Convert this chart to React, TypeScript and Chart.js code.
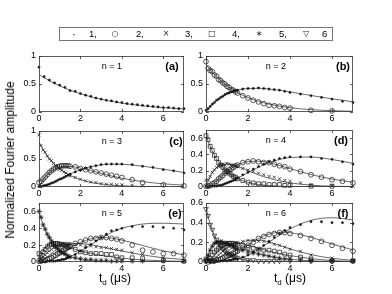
import React, { useEffect, useRef } from "react";
import { Chart, registerables } from "chart.js";
Chart.register(...registerables);

const W = 392;
const H = 294;
const FONT = '"Liberation Sans", Arial, Helvetica, sans-serif';

// ---- time grids (µs) ----
const T_LINE = [0, 0.25, 0.5, 0.75, 1, 1.25, 1.5, 2, 2.5, 3, 3.5, 4, 5, 6, 7];
const T_A = [0, 0.25, 0.5, 0.75, 1, 1.25, 1.5, 1.75, 2, 2.25, 2.5, 2.75, 3, 3.25, 3.5, 3.75, 4, 4.25, 4.5, 4.75, 5, 5.25, 5.5, 5.75, 6, 6.25, 6.5, 6.75, 7];
const T_DATA = [0, 0.1, 0.2, 0.3, 0.4, 0.5, 0.6, 0.7, 0.8, 0.9, 1, 1.1, 1.2, 1.3, 1.4, 1.5, 1.75, 2, 2.25, 2.5, 2.75, 3, 3.25, 3.5, 3.75, 4, 4.5, 5, 5.5, 6, 6.5, 7];

// ---- panel (a) n = 1 ----
const A_FIT_1 = [0.670, 0.612, 0.560, 0.511, 0.467, 0.427, 0.390, 0.326, 0.272, 0.228, 0.190, 0.159, 0.111, 0.077, 0.054];
const A_DATA_1 = [0.80, 0.63, 0.57, 0.52, 0.48, 0.44, 0.38, 0.37, 0.33, 0.30, 0.28, 0.25, 0.23, 0.21, 0.20, 0.18, 0.17, 0.15, 0.14, 0.13, 0.12, 0.11, 0.10, 0.09, 0.08, 0.08, 0.07, 0.06, 0.06];

// ---- panel (b) n = 2 ----
const B_FIT_1 = [0, 0.114, 0.204, 0.274, 0.326, 0.365, 0.393, 0.421, 0.424, 0.410, 0.387, 0.358, 0.295, 0.235, 0.183];
const B_FIT_2 = [0.850, 0.732, 0.630, 0.542, 0.466, 0.402, 0.346, 0.256, 0.190, 0.141, 0.104, 0.077, 0.042, 0.023, 0.013];
const B_DATA_1 = [0.03, 0.06, 0.10, 0.14, 0.17, 0.21, 0.23, 0.26, 0.28, 0.31, 0.33, 0.34, 0.36, 0.37, 0.38, 0.39, 0.41, 0.42, 0.42, 0.43, 0.42, 0.41, 0.40, 0.39, 0.37, 0.35, 0.32, 0.29, 0.26, 0.23, 0.19, 0.17];
const B_DATA_2 = [0.90, 0.78, 0.74, 0.72, 0.66, 0.64, 0.58, 0.56, 0.52, 0.50, 0.46, 0.44, 0.40, 0.39, 0.36, 0.34, 0.29, 0.25, 0.21, 0.18, 0.15, 0.12, 0.11, 0.10, 0.08, 0.07, null, 0.03, null, 0.02, null, null];

// ---- panel (c) n = 3 ----
const C_FIT_1 = [0, 0.013, 0.046, 0.090, 0.137, 0.186, 0.231, 0.308, 0.363, 0.395, 0.408, 0.406, 0.372, 0.318, 0.260];
const C_FIT_2 = [0, 0.155, 0.257, 0.320, 0.354, 0.368, 0.367, 0.338, 0.293, 0.244, 0.198, 0.158, 0.096, 0.057, 0.033];
const C_FIT_3 = [0.800, 0.639, 0.510, 0.407, 0.325, 0.260, 0.207, 0.132, 0.084, 0.054, 0.034, 0.022, 0.009, 0.004, 0.001];
const C_DATA_1 = [0.01, 0.01, 0.02, 0.03, 0.04, 0.05, 0.07, 0.08, 0.10, 0.12, 0.14, 0.15, 0.17, 0.19, 0.21, 0.23, 0.27, 0.30, 0.34, 0.36, 0.38, 0.40, 0.41, 0.41, 0.41, 0.41, 0.40, 0.37, 0.35, 0.31, 0.29, 0.25];
const C_DATA_2 = [0.08, 0.10, 0.14, 0.18, 0.22, 0.26, 0.29, 0.32, 0.34, 0.36, 0.37, 0.38, 0.38, 0.38, 0.38, 0.37, 0.36, 0.33, 0.31, 0.29, 0.27, 0.25, 0.23, 0.21, 0.19, 0.17, 0.13, 0.08, null, 0.04, null, 0.02];
const C_DATA_3 = [0.93, 0.74, 0.66, 0.62, 0.55, 0.50, 0.47, 0.42, 0.38, 0.36, 0.32, 0.30, 0.27, 0.25, 0.22, 0.20, 0.17, 0.14, 0.11, 0.09, 0.08, 0.06, 0.05, 0.05, 0.04, 0.04, 0.03, 0.02, null, null, null, null];

// ---- panel (d) n = 4 ----
const D_FIT_1 = [0, 0.001, 0.008, 0.023, 0.045, 0.074, 0.107, 0.177, 0.244, 0.299, 0.338, 0.362, 0.368, 0.338, 0.291];
const D_FIT_2 = [0, 0.023, 0.073, 0.132, 0.188, 0.236, 0.272, 0.313, 0.317, 0.297, 0.264, 0.226, 0.153, 0.097, 0.059];
const D_FIT_3 = [0, 0.155, 0.238, 0.275, 0.282, 0.272, 0.252, 0.200, 0.149, 0.107, 0.075, 0.051, 0.023, 0.010, 0.004];
const D_FIT_4 = [0.630, 0.467, 0.346, 0.256, 0.190, 0.141, 0.104, 0.057, 0.031, 0.017, 0.009, 0.005, 0.002, 0, 0];
const D_DATA_1 = [0.01, 0.00, 0.01, 0.01, 0.01, 0.01, 0.02, 0.02, 0.03, 0.04, 0.05, 0.06, 0.07, 0.08, 0.09, 0.11, 0.15, 0.18, 0.22, 0.25, 0.28, 0.31, 0.33, 0.35, 0.36, 0.37, 0.37, 0.37, 0.35, 0.34, 0.31, 0.28];
const D_DATA_2 = [0.01, 0.01, 0.02, 0.04, 0.05, 0.07, 0.10, 0.12, 0.14, 0.17, 0.19, 0.21, 0.22, 0.24, 0.26, 0.27, 0.30, 0.31, 0.32, 0.31, 0.30, 0.30, 0.28, 0.26, 0.25, 0.22, 0.19, 0.15, 0.12, 0.09, 0.07, 0.05];
const D_DATA_3 = [0.08, 0.09, 0.13, 0.18, 0.21, 0.24, 0.25, 0.27, 0.28, 0.27, 0.29, 0.28, 0.27, 0.27, 0.26, 0.25, 0.23, 0.21, 0.19, 0.17, 0.15, 0.13, 0.12, 0.10, 0.08, 0.07, 0.05, 0.03, null, 0.02, null, 0.01];
const D_DATA_4 = [0.63, 0.58, 0.50, 0.45, 0.39, 0.35, 0.30, 0.27, 0.24, 0.21, 0.19, 0.17, 0.15, 0.13, 0.12, 0.10, 0.08, 0.06, 0.05, 0.04, 0.04, 0.03, 0.03, 0.03, 0.02, 0.02, null, 0.01, null, 0.01, null, null];

// ---- panel (e) n = 5 ----
const E_FIT_1 = [0, 0, 0.002, 0.007, 0.019, 0.037, 0.062, 0.127, 0.205, 0.282, 0.350, 0.400, 0.450, 0.460, 0.450];
const E_FIT_2 = [0, 0.003, 0.017, 0.044, 0.080, 0.121, 0.163, 0.232, 0.275, 0.290, 0.282, 0.260, 0.196, 0.133, 0.085];
const E_FIT_3 = [0, 0.03, 0.08, 0.13, 0.17, 0.20, 0.215, 0.22, 0.205, 0.18, 0.155, 0.13, 0.085, 0.05, 0.03];
const E_FIT_4 = [0, 0.15, 0.21, 0.225, 0.215, 0.195, 0.172, 0.130, 0.100, 0.078, 0.060, 0.045, 0.025, 0.013, 0.007];
const E_FIT_5 = [0.600, 0.412, 0.283, 0.195, 0.134, 0.092, 0.063, 0.030, 0.014, 0.007, 0.003, 0.001, 0, 0, 0];
const E_DATA_1 = [0.01, 0.00, 0.01, 0.00, 0.01, 0.01, 0.01, 0.01, 0.01, 0.02, 0.02, 0.03, 0.03, 0.04, 0.05, 0.06, 0.09, 0.13, 0.17, 0.21, 0.25, 0.29, 0.33, 0.37, 0.38, 0.40, 0.42, 0.42, 0.42, 0.41, 0.40, 0.38];
const E_DATA_2 = [0.01, 0.01, 0.02, 0.02, 0.03, 0.04, 0.05, 0.07, 0.08, 0.10, 0.11, 0.13, 0.14, 0.16, 0.17, 0.19, 0.22, 0.24, 0.26, 0.28, 0.28, 0.29, 0.29, 0.28, 0.27, 0.25, 0.20, 0.14, 0.12, 0.10, 0.10, 0.08];
const E_DATA_3 = [0.05, 0.04, 0.06, 0.08, 0.11, 0.13, 0.15, 0.17, 0.18, 0.19, 0.20, 0.21, 0.22, 0.22, 0.22, 0.22, 0.21, 0.20, 0.19, 0.19, 0.18, 0.17, 0.17, 0.16, 0.15, 0.14, 0.11, 0.09, null, 0.05, null, 0.02];
const E_DATA_4 = [0.10, 0.08, 0.12, 0.15, 0.18, 0.20, 0.21, 0.22, 0.22, 0.22, 0.21, 0.21, 0.20, 0.19, 0.18, 0.18, 0.15, 0.12, 0.11, 0.10, 0.10, 0.10, 0.09, 0.09, 0.06, 0.05, 0.05, 0.04, null, 0.02, null, 0.01];
const E_DATA_5 = [0.60, 0.53, 0.44, 0.39, 0.33, 0.29, 0.25, 0.21, 0.18, 0.16, 0.13, 0.12, 0.10, 0.09, 0.07, 0.06, 0.05, 0.04, 0.03, 0.03, 0.02, 0.02, 0.02, 0.01, 0.01, 0.01, 0.01, 0.01, null, 0.01, null, 0.01];

// ---- panel (f) n = 6 ----
const F_FIT_1 = [0, 0, 0, 0.002, 0.006, 0.014, 0.027, 0.069, 0.130, 0.201, 0.273, 0.337, 0.424, 0.450, 0.428];
const F_FIT_2 = [0, 0, 0.004, 0.015, 0.034, 0.062, 0.097, 0.172, 0.239, 0.283, 0.302, 0.298, 0.250, 0.183, 0.123];
const F_FIT_3 = [0, 0.004, 0.025, 0.060, 0.102, 0.143, 0.178, 0.219, 0.223, 0.202, 0.169, 0.134, 0.075, 0.038, 0.017];
const F_FIT_4 = [0, 0.035, 0.095, 0.145, 0.175, 0.19, 0.19, 0.17, 0.14, 0.11, 0.085, 0.065, 0.035, 0.015, 0.006];
const F_FIT_5 = [0, 0.15, 0.20, 0.205, 0.19, 0.17, 0.15, 0.115, 0.085, 0.06, 0.04, 0.028, 0.012, 0.005, 0.002];
const F_FIT_6 = [0.55, 0.351, 0.224, 0.143, 0.091, 0.058, 0.037, 0.015, 0.006, 0.002, 0.001, 0, 0, 0, 0];
const F_DATA_1 = [0.00, 0.01, 0.00, 0.01, 0.00, 0.01, 0.01, 0.01, 0.01, 0.02, 0.01, 0.02, 0.02, 0.03, 0.03, 0.03, 0.05, 0.07, 0.10, 0.13, 0.17, 0.21, 0.25, 0.29, 0.32, 0.35, 0.38, 0.41, 0.41, 0.40, 0.40, 0.39];
const F_DATA_2 = [0.01, 0.00, 0.01, 0.01, 0.01, 0.02, 0.02, 0.03, 0.04, 0.05, 0.06, 0.07, 0.08, 0.09, 0.10, 0.11, 0.14, 0.17, 0.20, 0.24, 0.26, 0.28, 0.29, 0.30, 0.30, 0.29, 0.27, 0.24, 0.21, 0.17, 0.14, 0.11];
const F_DATA_3 = [0.01, 0.01, 0.01, 0.02, 0.03, 0.05, 0.07, 0.09, 0.11, 0.13, 0.14, 0.16, 0.17, 0.18, 0.19, 0.20, 0.21, 0.22, 0.22, 0.21, 0.21, 0.20, 0.18, 0.17, 0.15, 0.13, 0.11, 0.07, null, 0.04, null, 0.02];
const F_DATA_4 = [0.03, 0.02, 0.04, 0.07, 0.10, 0.12, 0.14, 0.16, 0.17, 0.18, 0.19, 0.19, 0.19, 0.19, 0.18, 0.18, 0.17, 0.15, 0.14, 0.13, 0.12, 0.12, 0.11, 0.10, 0.08, 0.07, 0.05, 0.03, null, 0.01, null, 0.01];
const F_DATA_5 = [0.02, 0.07, 0.12, 0.16, 0.19, 0.20, 0.20, 0.21, 0.20, 0.19, 0.19, 0.17, 0.17, 0.15, 0.14, 0.13, 0.12, 0.10, 0.09, 0.08, 0.07, 0.06, 0.05, 0.04, 0.03, 0.03, 0.02, 0.01, null, 0.01, null, 0.01];
const F_DATA_6 = [0.54, 0.47, 0.38, 0.33, 0.27, 0.23, 0.19, 0.16, 0.13, 0.11, 0.09, 0.08, 0.07, 0.06, 0.05, 0.04, 0.03, 0.02, 0.02, 0.01, 0.01, 0.01, 0.01, 0.01, null, 0.01, null, 0.01, null, 0.01, null, 0.01];

// ---- legend ----
const LEGEND_SYMBOLS = ["·", "○", "×", "□", "∗", "▽"];
const LEGEND_LABELS = ["1,", "2,", "3,", "4,", "5,", "6"];

type S = { k: number; fit: number[]; data: (number | null)[]; t: number[] };
type P = { tag: string; n: number; ymax: number; ystep: number; L: number; R: number; T: number; B: number; tagDx: number; series: S[] };

const PANELS: P[] = [
  { tag: "(a)", n: 1, ymax: 1, ystep: 0.5, L: 39, R: 184, T: 56, B: 112, tagDx: 12, series: [
    { k: 1, fit: A_FIT_1, data: A_DATA_1, t: T_A },
  ] },
  { tag: "(b)", n: 2, ymax: 1, ystep: 0.5, L: 206, R: 353, T: 56, B: 112, tagDx: 10, series: [
    { k: 1, fit: B_FIT_1, data: B_DATA_1, t: T_DATA },
    { k: 2, fit: B_FIT_2, data: B_DATA_2, t: T_DATA },
  ] },
  { tag: "(c)", n: 3, ymax: 1, ystep: 0.5, L: 39, R: 184, T: 131, B: 187, tagDx: 8, series: [
    { k: 1, fit: C_FIT_1, data: C_DATA_1, t: T_DATA },
    { k: 2, fit: C_FIT_2, data: C_DATA_2, t: T_DATA },
    { k: 3, fit: C_FIT_3, data: C_DATA_3, t: T_DATA },
  ] },
  { tag: "(d)", n: 4, ymax: 0.7, ystep: 0.2, L: 206, R: 353, T: 130, B: 187, tagDx: 12, series: [
    { k: 1, fit: D_FIT_1, data: D_DATA_1, t: T_DATA },
    { k: 2, fit: D_FIT_2, data: D_DATA_2, t: T_DATA },
    { k: 3, fit: D_FIT_3, data: D_DATA_3, t: T_DATA },
    { k: 4, fit: D_FIT_4, data: D_DATA_4, t: T_DATA },
  ] },
  { tag: "(e)", n: 5, ymax: 0.7, ystep: 0.2, L: 39, R: 184, T: 203, B: 262, tagDx: 9, series: [
    { k: 1, fit: E_FIT_1, data: E_DATA_1, t: T_DATA },
    { k: 2, fit: E_FIT_2, data: E_DATA_2, t: T_DATA },
    { k: 3, fit: E_FIT_3, data: E_DATA_3, t: T_DATA },
    { k: 4, fit: E_FIT_4, data: E_DATA_4, t: T_DATA },
    { k: 5, fit: E_FIT_5, data: E_DATA_5, t: T_DATA },
  ] },
  { tag: "(f)", n: 6, ymax: 0.6, ystep: 0.2, L: 206, R: 353, T: 203, B: 262, tagDx: 10, series: [
    { k: 1, fit: F_FIT_1, data: F_DATA_1, t: T_DATA },
    { k: 2, fit: F_FIT_2, data: F_DATA_2, t: T_DATA },
    { k: 3, fit: F_FIT_3, data: F_DATA_3, t: T_DATA },
    { k: 4, fit: F_FIT_4, data: F_DATA_4, t: T_DATA },
    { k: 5, fit: F_FIT_5, data: F_DATA_5, t: T_DATA },
    { k: 6, fit: F_FIT_6, data: F_DATA_6, t: T_DATA },
  ] },
];

const MARK = "#111";
const LINE = "#444";

function markerStyle(k: number) {
  switch (k) {
    case 1: return { pointStyle: "circle", pointRadius: 1.1, pointBackgroundColor: MARK, pointBorderWidth: 0.5 };
    case 2: return { pointStyle: "circle", pointRadius: 2.4, pointBackgroundColor: "rgba(0,0,0,0)", pointBorderWidth: 0.7 };
    case 3: return { pointStyle: "crossRot", pointRadius: 2.2, pointBackgroundColor: "rgba(0,0,0,0)", pointBorderWidth: 0.7 };
    case 4: return { pointStyle: "rect", pointRadius: 2.7, pointBackgroundColor: "rgba(0,0,0,0)", pointBorderWidth: 0.7 };
    case 5: return { pointStyle: "star", pointRadius: 2.5, pointBackgroundColor: "rgba(0,0,0,0)", pointBorderWidth: 0.7 };
    default: return { pointStyle: "triangle", pointRadius: 2.7, pointRotation: 180, pointBackgroundColor: "rgba(0,0,0,0)", pointBorderWidth: 0.7 };
  }
}

const YW = 30;
const XH = 14;

const framePlugin = {
  id: "frame",
  afterDraw(chart: any) {
    const { ctx, chartArea } = chart;
    const { left, right, top, bottom } = chartArea;
    const xs = chart.scales.x;
    const ys = chart.scales.y;
    ctx.save();
    ctx.strokeStyle = "#333";
    ctx.lineWidth = 0.8;
    ctx.strokeRect(left + 0.5, top + 0.5, right - left - 1, bottom - top - 1);
    ctx.beginPath();
    const tl = 3;
    for (const t of xs.ticks) {
      const px = Math.round(xs.getPixelForValue(t.value)) + 0.5;
      ctx.moveTo(px, bottom); ctx.lineTo(px, bottom - tl);
      ctx.moveTo(px, top); ctx.lineTo(px, top + tl);
    }
    for (const t of ys.ticks) {
      const py = Math.round(ys.getPixelForValue(t.value)) + 0.5;
      ctx.moveTo(left, py); ctx.lineTo(left + tl, py);
      ctx.moveTo(right, py); ctx.lineTo(right - tl, py);
    }
    ctx.stroke();
    ctx.restore();
  },
};

function fmt(v: number) {
  const r = Math.round(v * 10) / 10;
  return String(r);
}

export default function App() {
  const refs = useRef<(HTMLCanvasElement | null)[]>([]);

  useEffect(() => {
    const charts: Chart[] = [];
    PANELS.forEach((p, i) => {
      const cv = refs.current[i];
      if (!cv) return;
      const datasets: any[] = [];
      p.series.forEach((s) => {
        datasets.push({
          type: "line",
          data: T_LINE.map((x, j) => ({ x, y: s.fit[j] })),
          borderColor: LINE,
          borderWidth: 0.8,
          pointRadius: 0,
          fill: false,
          cubicInterpolationMode: "monotone",
          order: 2,
        });
      });
      p.series.forEach((s) => {
        datasets.push({
          type: "scatter",
          data: s.t.map((x, j) => ({ x, y: s.data[j] })).filter((d) => d.y !== null),
          showLine: false,
          borderColor: MARK,
          pointBorderColor: MARK,
          clip: false,
          order: 1,
          ...markerStyle(s.k),
        });
      });
      const chart = new Chart(cv, {
        type: "scatter",
        data: { datasets },
        options: {
          responsive: false,
          maintainAspectRatio: false,
          devicePixelRatio: 1,
          animation: false,
          events: [],
          layout: { padding: { left: p.L - YW, right: W - p.R, top: p.T, bottom: H - p.B - XH } },
          plugins: { legend: { display: false }, tooltip: { enabled: false } },
          scales: {
            x: {
              type: "linear", min: 0, max: 7,
              grid: { display: false, drawTicks: false },
              border: { display: false },
              ticks: { stepSize: 2, includeBounds: false, autoSkip: false, maxRotation: 0, padding: 1, color: "#000", font: { family: FONT, size: 9 } },
              afterFit: (s: any) => { s.height = XH; },
            },
            y: {
              type: "linear", min: 0, max: p.ymax,
              grid: { display: false, drawTicks: false },
              border: { display: false },
              ticks: { stepSize: p.ystep, includeBounds: false, autoSkip: false, padding: 3, color: "#000", font: { family: FONT, size: 9 }, callback: (v: any) => fmt(Number(v)) },
              afterFit: (s: any) => { s.width = YW; },
            },
          },
        } as any,
        plugins: [framePlugin],
      });
      charts.push(chart);
    });
    return () => charts.forEach((c) => c.destroy());
  }, []);

  const legendMarkX = [74, 115, 166, 212, 259, 306];
  const legendTextX = [89, 136, 185, 232, 279, 322];

  return (
    <div style={{ position: "fixed", left: 0, top: 0, width: W, height: H, background: "#fff", overflow: "hidden", fontFamily: FONT, color: "#000" }}>
      {PANELS.map((p, i) => (
        <canvas
          key={p.tag}
          ref={(el) => { refs.current[i] = el; }}
          width={W}
          height={H}
          style={{ position: "absolute", left: 0, top: 0 }}
        />
      ))}
      {PANELS.map((p) => (
        <React.Fragment key={p.tag + "t"}>
          <div style={{ position: "absolute", left: (p.L < 100 ? 112 : 276), top: p.T + 10, transform: "translate(-50%,-50%)", fontSize: 9, whiteSpace: "nowrap", lineHeight: 1 }}>
            {"n = " + p.n}
          </div>
          <div style={{ position: "absolute", left: p.R - p.tagDx, top: p.T + 9.5, transform: "translate(-50%,-50%)", fontSize: 11, fontWeight: "bold", whiteSpace: "nowrap", lineHeight: 1 }}>
            {p.tag}
          </div>
        </React.Fragment>
      ))}
      <div style={{ position: "absolute", left: 59, top: 27, width: 274, height: 14, border: "1px solid #777", boxSizing: "border-box", background: "#fff" }} />
      {LEGEND_SYMBOLS.map((sym, i) => (
        <React.Fragment key={"lg" + i}>
          <span style={{ position: "absolute", left: legendMarkX[i], top: 34, transform: "translate(-50%,-50%)", fontSize: i === 0 ? 11 : 8, lineHeight: 1, fontFamily: '"DejaVu Sans", sans-serif', color: "#222" }}>{sym}</span>
          <span style={{ position: "absolute", left: legendTextX[i], top: 34, transform: "translateY(-50%)", fontSize: 9.5, lineHeight: 1, whiteSpace: "nowrap" }}>{LEGEND_LABELS[i]}</span>
        </React.Fragment>
      ))}
      <div style={{ position: "absolute", left: 10, top: 160, transform: "translate(-50%,-50%) rotate(-90deg)", fontSize: 12, whiteSpace: "nowrap", lineHeight: 1 }}>
        Normalized Fourier amplitude
      </div>
      {[115, 290].map((cx) => (
        <div key={"xl" + cx} style={{ position: "absolute", left: cx, top: 279, transform: "translate(-50%,-50%)", fontSize: 12, whiteSpace: "nowrap", lineHeight: 1 }}>
          t<sub style={{ fontSize: 8, verticalAlign: "-3px" }}>d</sub> (μs)
        </div>
      ))}
    </div>
  );
}
